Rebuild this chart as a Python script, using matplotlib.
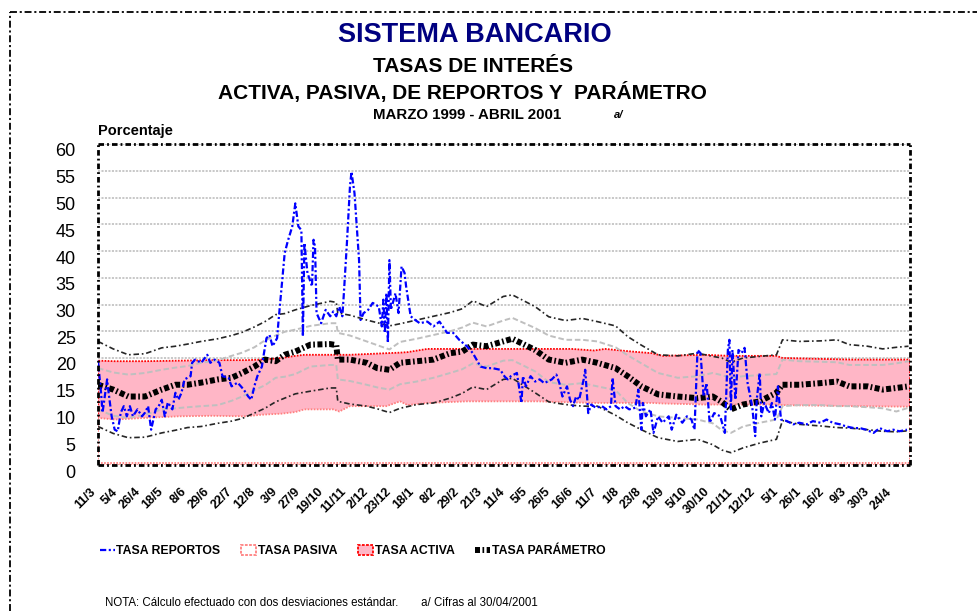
import numpy as np
import matplotlib
matplotlib.use("Agg")
import matplotlib.pyplot as plt
import matplotlib.transforms as mtransforms
from matplotlib.lines import Line2D
from matplotlib.patches import Patch

plt.rcParams['font.family'] = ['Liberation Sans', 'DejaVu Sans']
plt.rcParams['lines.scale_dashes'] = False

# ── Eje de categorías (días hábiles, etiqueta cada 15) ───────────────────────
FECHAS = ["11/3", "5/4", "26/4", "18/5", "8/6", "29/6", "22/7", "12/8", "3/9",
          "27/9", "19/10", "11/11", "2/12", "23/12", "18/1", "8/2", "29/2",
          "21/3", "11/4", "5/5", "26/5", "16/6", "11/7", "1/8", "23/8", "13/9",
          "5/10", "30/10", "21/11", "12/12", "5/1", "26/1", "16/2", "9/3",
          "30/3", "24/4"]
N_DIAS = 535

# ── Tasa de reportos (día, %) ────────────────────────────────────────────────
REPORTOS = [
    (0, 19.5), (2, 13.5), (3, 9.8), (6, 16.0), (7, 13.5), (9, 9.1), (11, 6.6),
    (13, 6.3), (15, 9.8), (17, 11.0), (19, 9.1), (21, 11.0), (23, 9.1),
    (26, 10.4), (29, 9.1), (31, 9.8), (33, 11.0), (35, 6.6), (38, 10.4),
    (40, 11.0), (42, 12.2), (44, 9.1), (46, 11.7), (49, 10.4), (51, 13.5),
    (53, 12.2), (55, 13.5), (57, 16.0), (61, 16.6), (62, 19.1), (64, 19.7),
    (68, 19.1), (72, 20.6), (74, 19.1), (77, 19.7), (80, 19.1), (82, 16.6),
    (86, 16.3), (88, 14.7), (92, 15.4), (96, 14.1), (99, 12.8), (101, 12.2),
    (103, 14.7), (105, 16.6), (108, 18.4), (109, 20.3), (111, 23.7),
    (113, 24.3), (115, 22.2), (118, 23.7), (119, 27.1), (121, 33.4),
    (123, 39.6), (125, 41.8), (128, 44.6), (130, 48.9), (132, 44.6),
    (134, 43.9), (135, 24.0), (136, 41.5), (138, 35.9), (141, 33.4),
    (142, 42.1), (143, 40.8), (144, 28.4), (147, 26.5), (150, 29.0),
    (153, 27.8), (155, 28.7), (157, 27.8), (159, 29.6), (161, 27.8),
    (162, 32.1), (164, 41.5), (166, 52.0), (167, 54.8), (169, 50.8),
    (172, 38.3), (173, 27.1), (175, 28.4), (178, 29.0), (181, 30.3),
    (185, 29.6), (187, 25.9), (188, 30.9), (189, 24.7), (190, 32.1),
    (191, 22.8), (192, 38.3), (193, 29.0), (196, 32.1), (198, 28.4),
    (200, 37.1), (202, 35.9), (203, 33.4), (206, 27.8), (209, 27.1),
    (212, 26.5), (217, 26.8), (221, 25.9), (225, 26.8), (230, 24.7),
    (234, 24.7), (238, 23.4), (243, 22.2), (247, 20.9), (252, 18.4),
    (256, 18.1), (260, 18.1), (265, 17.8), (268, 16.5), (270, 16.0),
    (272, 16.6), (276, 17.2), (279, 11.6), (280, 16.6), (282, 14.7),
    (285, 16.6), (288, 15.6), (291, 16.0), (294, 15.3), (299, 16.0),
    (302, 16.9), (304, 15.3), (306, 12.8), (309, 14.7), (311, 12.2),
    (313, 11.0), (315, 12.8), (317, 12.2), (320, 16.0), (321, 17.8),
    (323, 9.7), (325, 11.3), (328, 10.7), (332, 11.0), (335, 10.4),
    (338, 11.0), (339, 16.3), (341, 11.0), (344, 10.4), (347, 11.0),
    (350, 10.4), (354, 10.7), (356, 14.1), (358, 6.6), (359, 11.6),
    (361, 9.1), (364, 10.4), (366, 6.0), (369, 9.1), (372, 7.9), (376, 9.1),
    (378, 6.6), (381, 9.4), (385, 7.9), (388, 9.1), (391, 8.5), (393, 6.6),
    (395, 21.5), (397, 20.9), (399, 12.8), (401, 15.3), (403, 7.9),
    (406, 9.7), (410, 9.1), (413, 6.0), (415, 21.5), (416, 23.4),
    (417, 10.4), (418, 21.5), (420, 12.2), (422, 21.5), (424, 20.9),
    (426, 21.9), (428, 15.3), (431, 11.0), (433, 5.4), (434, 12.2),
    (436, 17.2), (437, 9.1), (439, 11.6), (442, 9.7), (444, 11.6),
    (446, 8.5), (448, 14.7), (450, 8.5), (454, 8.2), (458, 7.6), (462, 7.9),
    (467, 7.6), (471, 8.2), (476, 7.9), (480, 8.5), (484, 7.9), (489, 7.6),
    (493, 7.2), (498, 6.9), (502, 6.9), (506, 6.6), (511, 6.0), (515, 6.9),
    (520, 6.3), (524, 6.6), (528, 6.3), (533, 6.6),
]

# ── Parámetro y bandas de desviación estándar ────────────────────────────────
BANDA_DIAS = [0, 10, 20, 31, 42, 51, 59, 68, 79, 88,
              95, 103, 110, 117, 123, 130, 140, 153, 157, 158,
              166, 177, 184, 192, 199, 210, 221, 232, 240, 247,
              256, 267, 273, 288, 297, 308, 319, 329, 341, 349,
              358, 369, 382, 395, 405, 411, 417, 425, 436, 447,
              451, 462, 476, 487, 495, 507, 517, 526, 534]
PARAMETRO = [15.0, 14.1, 12.8, 12.8, 14.1, 15.0, 15.0, 15.4, 16.0, 16.3,
             17.2, 18.4, 19.7, 19.4, 20.6, 21.2, 22.5, 22.6, 22.4, 19.7,
             19.7, 19.1, 18.1, 17.8, 19.1, 19.4, 19.7, 20.9, 21.2, 22.5,
             22.2, 23.1, 23.6, 21.5, 19.7, 19.1, 19.7, 19.1, 18.1, 16.6,
             14.7, 13.2, 12.8, 12.5, 12.8, 11.8, 10.4, 11.3, 11.9, 13.5,
             15.0, 15.0, 15.3, 15.6, 14.7, 14.7, 14.1, 14.4, 14.7]
SUP_1DE = [18.1, 17.3, 16.9, 17.2, 17.8, 18.2, 18.5, 19.1, 19.6, 20.4,
           21.0, 22.0, 23.3, 24.2, 24.9, 25.3, 26.0, 26.5, 26.5, 24.7,
           24.2, 23.1, 22.4, 21.6, 23.0, 23.6, 24.3, 25.0, 25.7, 26.6,
           25.9, 27.0, 27.5, 25.6, 24.2, 23.4, 23.4, 23.1, 22.0, 20.5,
           19.0, 17.2, 16.3, 16.6, 17.2, 16.8, 16.3, 16.6, 16.8, 17.0,
           19.7, 19.4, 19.3, 19.2, 18.7, 18.7, 18.7, 19.0, 19.4]
INF_1DE = [10.4, 9.2, 8.8, 9.4, 10.4, 10.6, 10.8, 11.0, 11.2, 12.0,
           12.8, 14.0, 14.9, 16.3, 16.5, 17.0, 18.4, 18.7, 18.7, 16.0,
           15.7, 15.0, 14.5, 14.1, 15.1, 15.6, 16.3, 17.2, 17.9, 19.0,
           18.4, 19.5, 19.6, 17.5, 15.5, 15.0, 15.3, 14.7, 14.0, 11.6,
           10.0, 9.1, 8.8, 8.5, 7.8, 6.5, 6.0, 7.2, 7.9, 8.5,
           11.0, 11.2, 11.2, 11.0, 11.0, 10.8, 10.6, 10.0, 10.7]
SUP_2DE = [23.1, 21.7, 20.6, 20.8, 21.9, 22.2, 22.6, 23.1, 23.6, 24.2,
           24.8, 25.8, 26.8, 28.1, 28.3, 29.0, 29.8, 30.6, 30.4, 28.4,
           28.0, 27.1, 26.6, 26.0, 26.4, 27.1, 27.8, 28.5, 29.2, 30.7,
           29.6, 31.5, 31.8, 29.6, 27.7, 27.0, 27.4, 26.8, 26.0, 24.0,
           22.4, 20.6, 20.4, 20.9, 20.3, 20.0, 19.2, 20.0, 20.3, 20.6,
           23.4, 23.1, 23.2, 23.4, 22.5, 22.2, 21.7, 22.0, 22.2]
INF_2DE = [7.2, 5.9, 5.1, 5.2, 6.0, 6.5, 7.0, 7.2, 7.8, 8.2,
           8.7, 9.7, 10.6, 11.8, 12.5, 13.3, 13.8, 14.4, 14.4, 11.9,
           11.4, 11.0, 10.5, 9.8, 10.6, 11.3, 11.6, 12.5, 13.4, 14.6,
           14.1, 16.0, 16.2, 13.5, 11.8, 11.3, 11.0, 11.0, 9.3, 7.9,
           6.6, 5.1, 4.4, 4.8, 3.8, 2.8, 2.3, 3.2, 4.1, 4.8,
           8.3, 7.6, 7.3, 7.0, 6.9, 6.6, 6.3, 6.2, 6.4]

# ── Tasas activa y pasiva (áreas) ────────────────────────────────────────────
AREA_DIAS = [0, 11, 31, 53, 75, 97, 108, 121, 130, 136, 155, 159, 166, 190,
             199, 204, 217, 243, 290, 312, 327, 334, 352, 365, 372, 400, 416,
             447, 451, 497, 535]
ACTIVA = [19.5, 19.4, 19.4, 19.5, 19.6, 19.6, 19.7, 20.0, 20.4, 20.6, 20.6,
          20.6, 20.6, 20.9, 21.0, 21.1, 21.7, 21.7, 21.7, 21.7, 21.4, 21.7,
          21.2, 20.9, 20.4, 20.6, 20.4, 20.4, 20.0, 19.7, 19.7]
PASIVA = [8.8, 8.5, 8.8, 9.1, 9.2, 9.1, 9.4, 9.6, 9.9, 10.4, 10.4, 10.0,
          11.0, 11.0, 11.9, 11.2, 11.6, 11.9, 11.9, 11.7, 11.6, 11.6, 11.6,
          11.6, 11.5, 11.3, 11.3, 11.3, 11.2, 11.0, 10.9]

LEYENDA = ["TASA REPORTOS", "TASA PASIVA", "TASA ACTIVA", "TASA PARÁMETRO"]

# ── Colores y trazos ─────────────────────────────────────────────────────────
NAVY = "#000080"
BLUE = "#0000FF"
PINK = "#FFB6C6"
RED = "#FF0000"
SALMON = "#FF8080"
LGRAY = "#BFBFBF"
DGRAY = "#262626"
DASH_REP = (4.5, 1.8, 1.5, 1.8)
DASH_PAR = (3.6, 1.8, 1.2, 1.8)
DOTS = (0, (1.2, 1.0))

W, H = 977, 611
fig = plt.figure(figsize=(W / 100, H / 100), dpi=100)
ax = fig.add_axes([98 / W, 1 - 465 / H, (910 - 98) / W, (465 - 144) / H])

# áreas
ax.fill_between(AREA_DIAS, 0, ACTIVA, facecolor=PINK, edgecolor=RED,
                linewidth=1.3, linestyle=DOTS, zorder=1)
ax.fill_between(AREA_DIAS, 0, PASIVA, facecolor="white", edgecolor=SALMON,
                linewidth=1.3, linestyle=DOTS, zorder=1.1)
ax.axhline(0.35, color=SALMON, lw=1.3, linestyle=DOTS, zorder=1.2)

# bandas
for serie in (SUP_1DE, INF_1DE):
    ax.plot(BANDA_DIAS, serie, color=LGRAY, lw=1.4, dashes=(4, 2), zorder=2)
for serie in (SUP_2DE, INF_2DE):
    ax.plot(BANDA_DIAS, serie, color=DGRAY, lw=1.2, dashes=(4, 2, 1.2, 2),
            zorder=2.1)
ax.plot(BANDA_DIAS, PARAMETRO, color="black", lw=4.3, dashes=DASH_PAR,
        solid_capstyle="butt", dash_capstyle="butt", zorder=3)

rep = np.array(REPORTOS)
ax.plot(rep[:, 0], rep[:, 1], color=BLUE, lw=1.6, dashes=DASH_REP, zorder=4)

# ejes
ax.set_xlim(0, N_DIAS)
ax.set_ylim(0, 60)
ax.set_yticks(range(0, 61, 5))
ax.set_xticks(np.arange(0, 15 * len(FECHAS), 15))
ax.set_xticklabels(FECHAS, rotation=45, ha="right", va="center",
                   rotation_mode="anchor", fontsize=9, fontweight="bold")
ax.tick_params(axis="x", length=0, pad=18)
ax.tick_params(axis="y", length=0, pad=16, labelsize=13)
ax.yaxis.grid(True, color=LGRAY, lw=1.2, linestyle=(0, (1.5, 1.0)))
ax.set_axisbelow(True)
for sp in ax.spines.values():
    sp.set_linewidth(2.0)
    sp.set_linestyle((0, (4, 2.2, 1.3, 2.2)))
    sp.set_capstyle("butt")
    sp.set_zorder(6)

off_y = mtransforms.ScaledTranslation(0, -6 / 100, fig.dpi_scale_trans)
for lbl in ax.get_yticklabels():
    lbl.set_transform(lbl.get_transform() + off_y)
off_x = mtransforms.ScaledTranslation(-4.5 / 100, 0, fig.dpi_scale_trans)
for lbl in ax.get_xticklabels():
    lbl.set_transform(lbl.get_transform() + off_x)

# títulos
fig.text(475 / W, 1 - 35 / H, "SISTEMA BANCARIO", ha="center", va="center",
         fontsize=19.5, fontweight="bold", color=NAVY)
fig.text(473 / W, 1 - 66 / H, "TASAS DE INTERÉS", ha="center", va="center",
         fontsize=15, fontweight="bold")
fig.text(462 / W, 1 - 92 / H, "ACTIVA, PASIVA, DE REPORTOS Y  PARÁMETRO",
         ha="center", va="center", fontsize=15, fontweight="bold")
fig.text(467 / W, 1 - 115 / H, "MARZO 1999 - ABRIL 2001", ha="center",
         va="center", fontsize=10.8, fontweight="bold")
fig.text(619 / W, 1 - 115 / H, "a/", ha="center", va="center", fontsize=8,
         fontweight="bold", style="italic")
fig.text(98 / W, 1 - 131 / H, "Porcentaje", ha="left", va="center",
         fontsize=10.5, fontweight="bold")

# leyenda
handles = [
    Line2D([], [], color=BLUE, lw=1.6, dashes=DASH_REP),
    Patch(facecolor="white", edgecolor=SALMON, lw=1.3, linestyle=(0, (2, 1))),
    Patch(facecolor=PINK, edgecolor=RED, lw=1.3, linestyle=(0, (2, 1))),
    Line2D([], [], color="black", lw=4.3, dashes=DASH_PAR,
           dash_capstyle="butt"),
]
fig.legend(handles, LEYENDA, loc="center left",
           bbox_to_anchor=(100 / W, 1 - 551 / H), ncol=4, frameon=False,
           prop=dict(weight="bold", size=8.8), handlelength=1.2,
           handleheight=0.9, handletextpad=0.15, columnspacing=1.7,
           borderpad=0, borderaxespad=0)

fig.text(105 / W, 1 - 603 / H,
         "NOTA: Cálculo efectuado con dos desviaciones estándar.       "
         "a/ Cifras al 30/04/2001", ha="left", va="center", fontsize=8.3)

# marco exterior punteado
marco = dict(color="black", lw=1.3, linestyle=(0, (5, 2, 1.5, 2)),
             transform=fig.transFigure)
fig.add_artist(Line2D([10 / W, 1.0], [1 - 12 / H, 1 - 12 / H], **marco))
fig.add_artist(Line2D([10 / W, 10 / W], [0.0, 1 - 12 / H], **marco))

fig.savefig("out.png", dpi=100, facecolor="white")
